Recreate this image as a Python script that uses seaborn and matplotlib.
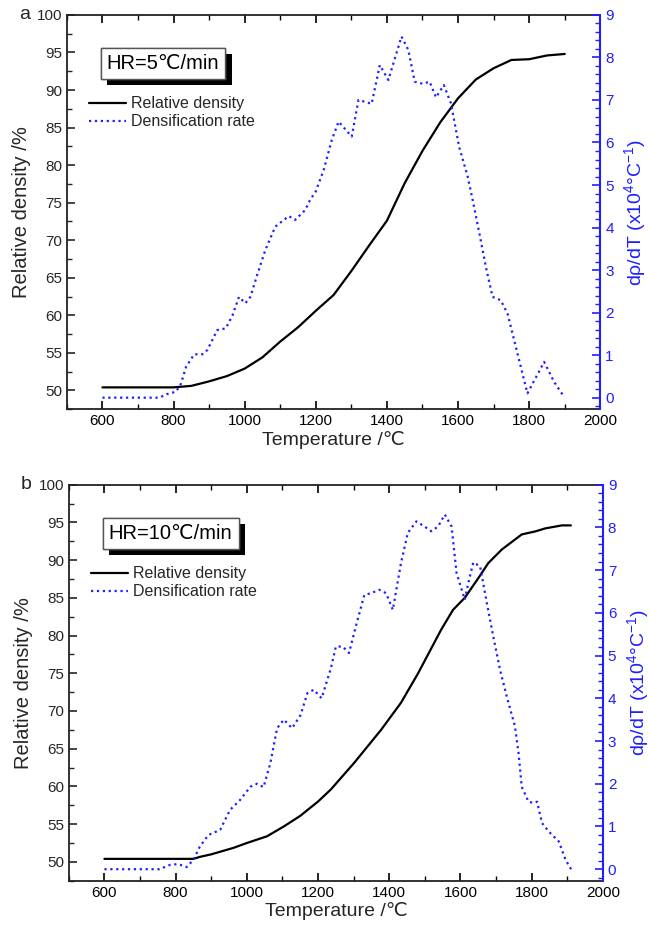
import numpy as np
import pandas as pd
import seaborn as sns
import matplotlib.pyplot as plt
from matplotlib.lines import Line2D
from matplotlib.ticker import MultipleLocator
from matplotlib import patheffects

#-- Data. --#
temp_a_rho = [600, 700, 800, 850, 900, 950, 1000, 1050, 1100, 1150, 1200, 1250, 1300,
              1350, 1400, 1450, 1500, 1550, 1600, 1650, 1700, 1750, 1800, 1850, 1900]
rho_a = [50.4, 50.4, 50.4, 50.6, 51.2, 51.9, 52.9, 54.4, 56.5, 58.4, 60.6, 62.7, 65.9,
         69.3, 72.6, 77.6, 81.9, 85.7, 88.9, 91.4, 92.9, 94.0, 94.1, 94.6, 94.8]

temp_a_rate = [600, 760, 780, 807, 821, 835, 858, 881, 895, 923, 947, 966, 984, 1002,
               1016, 1035, 1058, 1086, 1124, 1142, 1170, 1184, 1200, 1222, 1245, 1264,
               1301, 1320, 1357, 1380, 1404, 1441, 1460, 1478, 1501, 1520, 1538, 1560,
               1580, 1603, 1627, 1641, 1660, 1678, 1697, 1720, 1739, 1767, 1795, 1842,
               1870, 1898]
rate_a = [0, 0, 0.08, 0.14, 0.33, 0.72, 1.02, 1.02, 1.12, 1.59, 1.63, 1.94, 2.37, 2.22,
          2.37, 2.88, 3.47, 4.02, 4.27, 4.18, 4.41, 4.65, 4.85, 5.35, 6.06, 6.49,
          6.14, 7.0, 6.91, 7.82, 7.47, 8.49, 8.18, 7.43, 7.38, 7.43, 7.06, 7.35,
          6.92, 5.90, 5.20, 4.65, 3.86, 3.08, 2.37, 2.29, 1.98, 1.04, 0.10, 0.84,
          0.37, 0.02]

temp_b_rho = [600, 700, 800, 850, 868, 900, 962, 1000, 1057, 1104, 1150, 1200, 1236, 1301,
              1377, 1433, 1481, 1546, 1579, 1612, 1650, 1678, 1716, 1772, 1810, 1838,
              1885, 1910]
rho_b = [50.4, 50.4, 50.4, 50.4, 50.66, 51.0, 51.85, 52.5, 53.4, 54.7, 56.1, 58.0, 59.6, 63.1,
         67.5, 71.1, 75.0, 80.8, 83.4, 85.0, 87.6, 89.6, 91.4, 93.4, 93.8, 94.2,
         94.6, 94.6]

temp_b_rate = [600, 755, 784, 807, 831, 850, 868, 892, 925, 953, 981, 1010, 1029, 1047,
               1066, 1085, 1104, 1127, 1151, 1170, 1188, 1210, 1236, 1250, 1269, 1287,
               1306, 1330, 1349, 1372, 1391, 1410, 1433, 1452, 1476, 1499, 1518, 1537,
               1556, 1575, 1589, 1612, 1622, 1636, 1655, 1674, 1692, 1711, 1730, 1753,
               1763, 1772, 1791, 1805, 1815, 1829, 1848, 1876, 1895, 1912]
rate_b = [0, 0, 0.10, 0.12, 0.05, 0.22, 0.53, 0.80, 0.92, 1.39, 1.62, 1.93, 2.00, 1.92,
          2.48, 3.30, 3.50, 3.30, 3.61, 4.12, 4.20, 4.00, 4.70, 5.21, 5.21, 5.06,
          5.68, 6.42, 6.46, 6.54, 6.46, 6.07, 7.17, 7.87, 8.14, 8.02, 7.91, 8.02,
          8.30, 8.02, 6.93, 6.31, 6.70, 7.18, 7.09, 6.23, 5.45, 4.67, 4.04, 3.34,
          2.72, 1.93, 1.58, 1.55, 1.58, 1.08, 0.88, 0.65, 0.22, -0.02]

panel_tags = ["a", "b"]
rate_labels = ["HR=5\u2103/min", "HR=10\u2103/min"]
legend_labels = ["Relative density", "Densification rate"]

BLUE = "#1f1fff"

sns.set_style("ticks")
plt.rcParams["font.family"] = ["Liberation Sans", "DejaVu Sans"]
plt.rcParams["mathtext.default"] = "regular"
plt.rcParams["xtick.direction"] = "in"
plt.rcParams["ytick.direction"] = "in"

fig = plt.figure(figsize=(6.49, 9.32), dpi=100)
ax_a = fig.add_axes([0.103, 0.561, 0.822, 0.423])
ax_b = fig.add_axes([0.106, 0.055, 0.823, 0.425])

panels = [
    (ax_a, temp_a_rho, rho_a, temp_a_rate, rate_a),
    (ax_b, temp_b_rho, rho_b, temp_b_rate, rate_b),
]

for i, (ax, t_rho, rho, t_rate, rate) in enumerate(panels):
    ax2 = ax.twinx()
    sns.lineplot(x=t_rho, y=rho, ax=ax, color="black", lw=1.6)
    sns.lineplot(x=t_rate, y=rate, ax=ax2, color=BLUE, lw=1.6, linestyle=":")

    ax.set_xlim(500, 2000)
    ax.set_ylim(47.5, 100)
    ax2.set_ylim(-0.27, 9)

    ax.xaxis.set_major_locator(MultipleLocator(200))
    ax.xaxis.set_minor_locator(MultipleLocator(100))
    ax.yaxis.set_major_locator(MultipleLocator(5))
    ax.yaxis.set_minor_locator(MultipleLocator(2.5))
    ax2.yaxis.set_major_locator(MultipleLocator(1))
    ax2.yaxis.set_minor_locator(MultipleLocator(0.2))

    ax.tick_params(axis="x", which="both", top=True, labelsize=11, colors="black")
    ax.tick_params(axis="y", which="both", right=False, labelsize=11)
    ax.tick_params(which="major", length=6, width=1.2)
    ax.tick_params(which="minor", length=3.5, width=1.0)
    ax2.tick_params(axis="y", which="both", colors=BLUE, labelsize=11)
    ax2.tick_params(which="major", length=6, width=1.2)
    ax2.tick_params(which="minor", length=3.5, width=1.0)

    for s in ax.spines.values():
        s.set_linewidth(1.3)
        s.set_color("#222222")
    for name, s in ax2.spines.items():
        if name == "right":
            s.set_color(BLUE)
            s.set_linewidth(1.5)
        else:
            s.set_visible(False)

    ax.set_xlabel("Temperature /\u2103", fontsize=14, labelpad=2)
    ax.set_ylabel("Relative density /%", fontsize=14.5, labelpad=4)
    ax2.set_ylabel(r"d$\rho$/dT (x10$^{4}$$\degree$C$^{-1}$)", fontsize=14, color=BLUE, labelpad=6)

    # panel letter
    ax.text(-0.09, 1.0, panel_tags[i], transform=ax.transAxes, fontsize=14,
            ha="left", va="center")

    # heating-rate box with a drop shadow
    hr = ax.text(0.075, 0.877, rate_labels[i], transform=ax.transAxes, color="black",
                 fontsize=14.5, ha="left", va="center", zorder=5,
                 bbox=dict(boxstyle="square,pad=0.3", fc="white", ec="#555555", lw=1.0))
    hr.get_bbox_patch().set_path_effects([
        patheffects.withSimplePatchShadow(offset=(4.5, -4.5), shadow_rgbFace="black", alpha=1.0),
        patheffects.Normal(),
    ])

    handles = [Line2D([], [], color="black", lw=1.6),
               Line2D([], [], color=BLUE, lw=1.6, linestyle=":")]
    ax.legend(handles, legend_labels, loc="upper left", bbox_to_anchor=(0.03, 0.81),
              frameon=False, fontsize=11.5, handlelength=2.3, handletextpad=0.3,
              labelspacing=0.2, borderaxespad=0)

fig.savefig("out.png", dpi=100)
